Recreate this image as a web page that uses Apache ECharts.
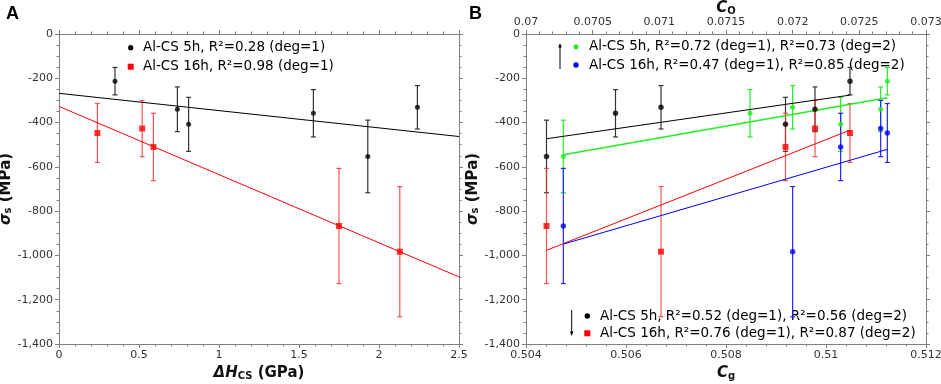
<!DOCTYPE html>
<html>
<head>
<meta charset="utf-8">
<script src="https://cdn.jsdelivr.net/npm/echarts@6/dist/echarts.min.js"></script>
<style>
  html, body { margin: 0; padding: 0; background: #fff; }
  #chart { width: 941px; height: 384px; }
</style>
</head>
<body>
<div id="chart"></div>
<script>
// values
// Al-CS 5h samples
const dH5  = [0.35, 0.74, 0.81, 1.59, 1.93, 2.24];
const sig5 = [-213, -340, -408, -358, -553, -331];
const err5 = [62, 101, 122, 107, 164, 98];
const cg5  = [0.51048, 0.50978, 0.50919, 0.50579, 0.50441, 0.50670];
const co5  = [0.07271, 0.07266, 0.07236, 0.07168, 0.07028, 0.07200];

// Al-CS 16h samples
const dH16  = [0.24, 0.52, 0.59, 1.75, 2.13];
const sig16 = [-447, -427, -510, -867, -983];
const err16 = [133, 127, 152, 260, 294];
const cg16  = [0.51048, 0.50978, 0.50919, 0.50441, 0.50670];
const co16  = [0.07271, 0.07266, 0.07236, 0.07028, 0.07200];

// fitted lines (end points)
const fitA5   = [[0, -268], [2.5, -463]];
const fitA16  = [[0, -327], [2.5, -1097]];
const fitCg5  = [[0.50441, -473], [0.51048, -276]];
const fitCg16 = [[0.50441, -977], [0.51048, -434]];
const fitCo5  = [[0.07028, -545], [0.07271, -288]];
const fitCo16 = [[0.07028, -949], [0.07271, -521]];

const legendA = ['Al-CS 5h, R²=0.28 (deg=1)', 'Al-CS 16h, R²=0.98 (deg=1)'];
const legendTop = ['Al-CS 5h, R²=0.72 (deg=1), R²=0.73 (deg=2)', 'Al-CS 16h, R²=0.47 (deg=1), R²=0.85 (deg=2)'];
const legendBot = ['Al-CS 5h, R²=0.52 (deg=1), R²=0.56 (deg=2)', 'Al-CS 16h, R²=0.76 (deg=1), R²=0.87 (deg=2)'];

const FONT = 'DejaVu Sans';
const AX = '#808080';

const chart = echarts.init(document.getElementById('chart'));

function comma(v) {
  const s = String(Math.abs(Math.round(v))).replace(/\B(?=(\d{3})+(?!\d))/g, ',');
  return (v < 0 ? '-' : '') + s;
}

function axis(gridIndex, position, min, max, interval, minorSplit, showLabel, extra) {
  return Object.assign({
    type: 'value', gridIndex, position, min, max, interval,
    axisLine: { show: true, onZero: false, lineStyle: { color: AX, width: 1 } },
    axisTick: { show: true, inside: false, length: 4, lineStyle: { color: AX } },
    minorTick: { show: true, splitNumber: minorSplit, length: 2.5, lineStyle: { color: AX } },
    splitLine: { show: false },
    minorSplitLine: { show: false },
    axisLabel: { show: showLabel, color: '#333', fontSize: 11, fontFamily: FONT, margin: 6 }
  }, extra || {});
}

const nameRich = {
  i: { fontFamily: FONT, fontSize: 15, fontWeight: 'bold', fontStyle: 'italic', color: '#111', lineHeight: 18, verticalAlign: 'bottom' },
  n: { fontFamily: FONT, fontSize: 15, fontWeight: 'bold', color: '#111', lineHeight: 18, verticalAlign: 'bottom' },
  s: { fontFamily: FONT, fontSize: 10, fontWeight: 'bold', color: '#111', lineHeight: 14, verticalAlign: 'bottom' }
};

function errorBar(params, api) {
  const x = api.value(0);
  const p1 = api.coord([x, api.value(1)]);
  const p2 = api.coord([x, api.value(2)]);
  const w = 2.5;
  const st = { stroke: api.visual('color'), lineWidth: 1.2 };
  return {
    type: 'group',
    children: [
      { type: 'line', shape: { x1: p1[0], y1: p1[1], x2: p2[0], y2: p2[1] }, style: st },
      { type: 'line', shape: { x1: p1[0] - w, y1: p1[1], x2: p1[0] + w, y2: p1[1] }, style: st },
      { type: 'line', shape: { x1: p2[0] - w, y1: p2[1], x2: p2[0] + w, y2: p2[1] }, style: st }
    ]
  };
}

function bars(xs, ys, es) {
  return xs.map((x, i) => [x, ys[i] - es[i], ys[i] + es[i]]);
}
function pts(xs, ys) {
  return xs.map((x, i) => [x, ys[i]]);
}

function errSeries(xi, yi, data, color) {
  return { type: 'custom', xAxisIndex: xi, yAxisIndex: yi, renderItem: errorBar,
    itemStyle: { color }, data, encode: { x: 0, y: [1, 2] }, silent: true, z: 2 };
}
function fitSeries(xi, yi, data, color, width) {
  return { type: 'line', xAxisIndex: xi, yAxisIndex: yi, data, symbol: 'none',
    lineStyle: { color, width }, silent: true, z: 3 };
}
function dotSeries(xi, yi, data, color, symbol, size) {
  return { type: 'scatter', xAxisIndex: xi, yAxisIndex: yi, data, symbol, symbolSize: size,
    itemStyle: { color }, silent: true, z: 4 };
}

const legendFont = { fontFamily: FONT, fontSize: 13.5, fill: '#000', verticalAlign: 'middle' };

function legendText(x, y, text) {
  return { type: 'text', x, y, style: Object.assign({ text }, legendFont) };
}

const option = {
  animation: false,
  backgroundColor: '#fff',
  grid: [
    { left: 59, top: 34, width: 400, height: 310, containLabel: false, outerBoundsMode: 'none' },
    { left: 526, top: 34, width: 400, height: 310, containLabel: false, outerBoundsMode: 'none' }
  ],
  xAxis: [
    axis(0, 'bottom', 0, 2.5, 0.5, 5, true, {
      name: '{i|ΔH}{s|CS}{n| (GPa)}', nameLocation: 'middle', nameGap: 19,
      nameTextStyle: { rich: nameRich }
    }),
    axis(0, 'top', 0, 2.5, 0.5, 5, false),
    axis(1, 'bottom', 0.504, 0.512, 0.002, 5, true, {
      name: '{i|C}{s|g}', nameLocation: 'middle', nameGap: 19,
      nameTextStyle: { rich: nameRich }
    }),
    axis(1, 'top', 0.07, 0.073, 0.0005, 5, true, {
      name: '{i|C}{s|O}', nameLocation: 'middle', nameGap: 18, nameMoveOverlap: false,
      nameTextStyle: { rich: nameRich }
    })
  ],
  yAxis: [
    axis(0, 'left', -1400, 0, 200, 4, true, {
      axisLabel: { show: true, color: '#333', fontSize: 11, fontFamily: FONT, margin: 6, formatter: comma },
      name: '{i|σ}{s|s}{n| (MPa)}', nameLocation: 'middle', nameGap: 36,
      nameTextStyle: { rich: nameRich }
    }),
    axis(0, 'right', -1400, 0, 200, 4, false),
    axis(1, 'left', -1400, 0, 200, 4, true, {
      axisLabel: { show: true, color: '#333', fontSize: 11, fontFamily: FONT, margin: 6, formatter: comma },
      name: '{i|σ}{s|s}{n| (MPa)}', nameLocation: 'middle', nameGap: 36,
      nameTextStyle: { rich: nameRich }
    }),
    axis(1, 'right', -1400, 0, 200, 4, false)
  ],
  series: [
    // panel A
    errSeries(0, 0, bars(dH5, sig5, err5), '#333'),
    errSeries(0, 0, bars(dH16, sig16, err16), 'rgba(255,40,40,0.8)'),
    fitSeries(0, 0, fitA5, '#000', 1),
    fitSeries(0, 0, fitA16, '#ff0000', 1),
    dotSeries(0, 0, pts(dH5, sig5), '#000', 'circle', 5),
    dotSeries(0, 0, pts(dH16, sig16), '#ff0000', 'rect', 6),

    // panel B, C_O (top axis)
    errSeries(3, 2, bars(co5, sig5, err5), '#22ee22'),
    errSeries(3, 2, bars(co16, sig16, err16), '#2222ff'),
    // panel B, C_g (bottom axis)
    errSeries(2, 2, bars(cg5, sig5, err5), '#333'),
    errSeries(2, 2, bars(cg16, sig16, err16), 'rgba(255,40,40,0.8)'),

    fitSeries(2, 2, fitCg5, '#000', 1),
    fitSeries(3, 2, fitCo5, '#22ee22', 1.5),
    fitSeries(2, 2, fitCg16, '#ff0000', 1),
    fitSeries(3, 2, fitCo16, '#0000ff', 1),

    dotSeries(3, 2, pts(co5, sig5), '#22ee22', 'circle', 5),
    dotSeries(3, 2, pts(co16, sig16), '#0000ff', 'circle', 5.5),
    dotSeries(2, 2, pts(cg5, sig5), '#000', 'circle', 5.5),
    dotSeries(2, 2, pts(cg16, sig16), '#ff0000', 'rect', 6)
  ],
  graphic: [
    // panel letters
    { type: 'text', x: 6, y: 14, style: { text: 'A', fontFamily: 'Liberation Sans', fontWeight: 'bold', fontSize: 18, fill: '#000', verticalAlign: 'middle' } },
    { type: 'text', x: 469, y: 14, style: { text: 'B', fontFamily: 'Liberation Sans', fontWeight: 'bold', fontSize: 18, fill: '#000', verticalAlign: 'middle' } },

    // legend A
    { type: 'circle', shape: { cx: 130.7, cy: 47.7, r: 2.6 }, style: { fill: '#000' } },
    { type: 'rect', shape: { x: 127.7, y: 63.7, width: 6, height: 6 }, style: { fill: '#ff0000' } },
    legendText(143, 47.7, legendA[0]),
    legendText(143, 66.7, legendA[1]),

    // legend B top (C_O)
    { type: 'line', shape: { x1: 560, y1: 69, x2: 560, y2: 46 }, style: { stroke: '#000', lineWidth: 1 } },
    { type: 'polygon', shape: { points: [[558.2, 47.5], [561.8, 47.5], [560, 43]] }, style: { fill: '#000' } },
    { type: 'circle', shape: { cx: 576, cy: 46.7, r: 2.5 }, style: { fill: '#22ee22' } },
    { type: 'circle', shape: { cx: 576, cy: 65, r: 2.7 }, style: { fill: '#0000ff' } },
    legendText(589, 46.7, legendTop[0]),
    legendText(589, 65, legendTop[1]),

    // legend B bottom (C_g)
    { type: 'line', shape: { x1: 571.7, y1: 310, x2: 571.7, y2: 333 }, style: { stroke: '#000', lineWidth: 1 } },
    { type: 'polygon', shape: { points: [[569.9, 331.5], [573.5, 331.5], [571.7, 336]] }, style: { fill: '#000' } },
    { type: 'circle', shape: { cx: 587.3, cy: 316, r: 2.7 }, style: { fill: '#000' } },
    { type: 'rect', shape: { x: 584.3, y: 330.3, width: 6, height: 6 }, style: { fill: '#ff0000' } },
    legendText(600, 316, legendBot[0]),
    legendText(600, 333.3, legendBot[1])
  ]
};

chart.setOption(option);
</script>
</body>
</html>
